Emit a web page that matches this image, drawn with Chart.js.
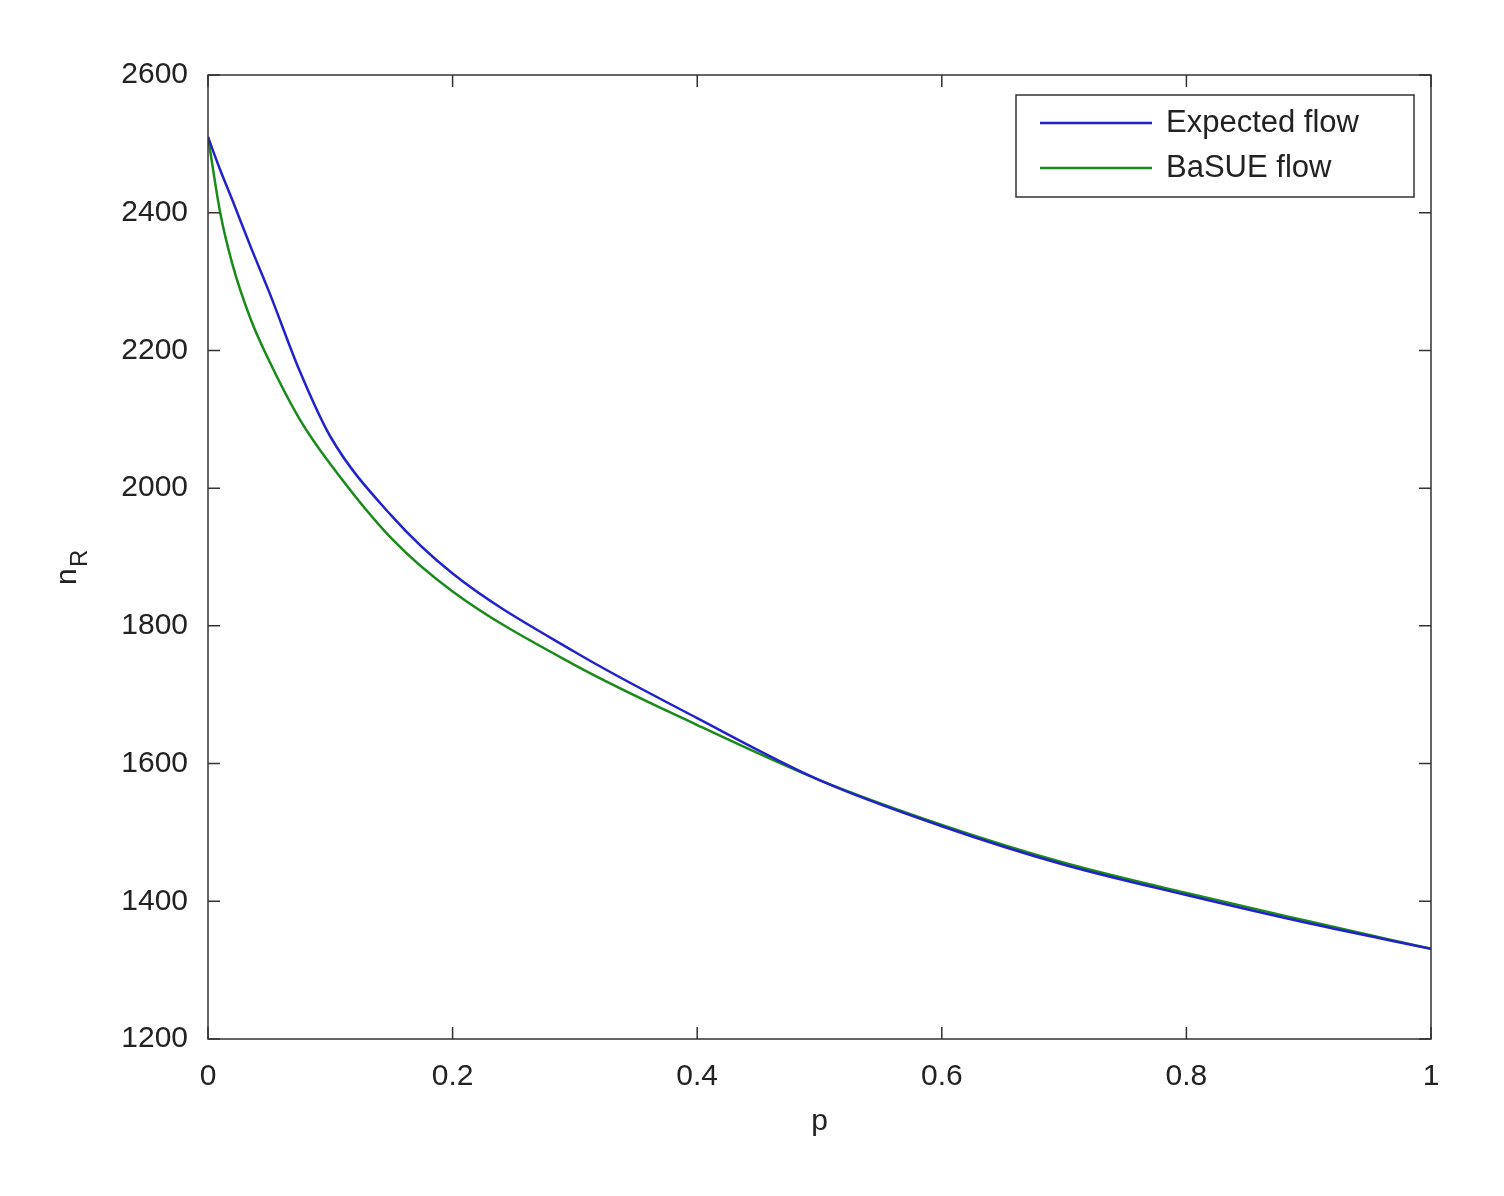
<!DOCTYPE html>
<html>
<head>
<meta charset="utf-8">
<script src="https://cdn.jsdelivr.net/npm/chart.js@4/dist/chart.umd.min.js"></script>
<style>
  html, body { margin: 0; padding: 0; background: #fff; }
  #wrap { width: 1504px; height: 1196px; }
</style>
</head>
<body>
<div id="wrap"><canvas id="chart"></canvas></div>
<script>
var pValues = [0, 0.01, 0.02, 0.035, 0.05, 0.075, 0.1, 0.15, 0.2, 0.3, 0.4, 0.5, 0.6, 0.7, 0.8, 0.9, 1];
var expectedFlow = [2510, 2462, 2418, 2350, 2285, 2170, 2075, 1960, 1876, 1762, 1666, 1576, 1509, 1453, 1409, 1368, 1331];
var basueFlow = [2510, 2400, 2325, 2245, 2185, 2100, 2035, 1927, 1850, 1743, 1656, 1576, 1511, 1456, 1412, 1371, 1331];
var xTicks = [0, 0.2, 0.4, 0.6, 0.8, 1];
var yTicks = [1200, 1400, 1600, 1800, 2000, 2200, 2400, 2600];

function toPoints(ys) {
  return pValues.map(function (p, i) { return { x: p, y: ys[i] }; });
}

var FONT = "Liberation Sans, Arial, sans-serif";

var matlabBox = {
  id: "matlabBox",
  afterDraw: function (chart) {
    var ctx = chart.ctx, a = chart.chartArea;
    var xs = chart.scales.x, ys = chart.scales.y;
    ctx.save();
    ctx.strokeStyle = "#333";
    ctx.lineWidth = 1.5;
    ctx.strokeRect(a.left, a.top, a.right - a.left, a.bottom - a.top);
    ctx.beginPath();
    xTicks.forEach(function (t) {
      var px = xs.getPixelForValue(t);
      ctx.moveTo(px, a.bottom); ctx.lineTo(px, a.bottom - 12);
      ctx.moveTo(px, a.top); ctx.lineTo(px, a.top + 12);
    });
    yTicks.forEach(function (t) {
      var py = ys.getPixelForValue(t);
      ctx.moveTo(a.left, py); ctx.lineTo(a.left + 12, py);
      ctx.moveTo(a.right, py); ctx.lineTo(a.right - 12, py);
    });
    ctx.stroke();

    // axis titles
    ctx.fillStyle = "#222";
    ctx.font = "30px " + FONT;
    ctx.textAlign = "center";
    ctx.textBaseline = "middle";
    ctx.fillText("p", (a.left + a.right) / 2, 1122);
    ctx.save();
    ctx.translate(68, (a.top + a.bottom) / 2);
    ctx.rotate(-Math.PI / 2);
    ctx.textAlign = "left";
    ctx.fillText("n", -28, 0);
    ctx.font = "24px " + FONT;
    ctx.fillText("R", -10, 12);
    ctx.restore();

    // legend
    var lx = 1016, ly = 95, lw = 398, lh = 102;
    ctx.fillStyle = "#fff";
    ctx.fillRect(lx, ly, lw, lh);
    ctx.strokeStyle = "#333";
    ctx.lineWidth = 1.5;
    ctx.strokeRect(lx, ly, lw, lh);
    var items = chart.data.datasets;
    ctx.font = "31px " + FONT;
    ctx.textAlign = "left";
    items.forEach(function (d, i) {
      var y = ly + 28 + i * 45;
      ctx.strokeStyle = d.borderColor;
      ctx.lineWidth = 2.5;
      ctx.beginPath();
      ctx.moveTo(lx + 24, y); ctx.lineTo(lx + 136, y);
      ctx.stroke();
      ctx.fillStyle = "#222";
      ctx.fillText(d.label, lx + 150, y);
    });
    ctx.restore();
  }
};

new Chart(document.getElementById("chart").getContext("2d"), {
  type: "line",
  data: {
    datasets: [
      { label: "Expected flow", data: toPoints(expectedFlow), borderColor: "#2222cc", borderWidth: 2.5, pointRadius: 0, cubicInterpolationMode: "monotone", fill: false },
      { label: "BaSUE flow", data: toPoints(basueFlow), borderColor: "#1a8a1a", borderWidth: 2.5, pointRadius: 0, cubicInterpolationMode: "monotone", fill: false }
    ]
  },
  options: {
    responsive: true,
    maintainAspectRatio: false,
    animation: false,
    layout: { padding: { top: 75, right: 73, left: 0, bottom: 0 } },
    plugins: { legend: { display: false }, tooltip: { enabled: false } },
    scales: {
      x: {
        type: "linear", min: 0, max: 1,
        afterBuildTicks: function (s) { s.ticks = xTicks.map(function (v) { return { value: v }; }); },
        afterFit: function (s) { s.height = 157; },
        grid: { display: false },
        border: { display: false },
        ticks: { color: "#222", font: { size: 30, family: FONT }, padding: 12, maxRotation: 0,
          callback: function (v) { return String(v); } }
      },
      y: {
        type: "linear", min: 1200, max: 2600,
        afterBuildTicks: function (s) { s.ticks = yTicks.map(function (v) { return { value: v }; }); },
        afterFit: function (s) { s.width = 208; },
        grid: { display: false },
        border: { display: false },
        ticks: { color: "#222", font: { size: 30, family: FONT }, padding: 12,
          callback: function (v) { return String(v); } }
      }
    }
  },
  plugins: [matlabBox]
});
</script>
</body>
</html>
